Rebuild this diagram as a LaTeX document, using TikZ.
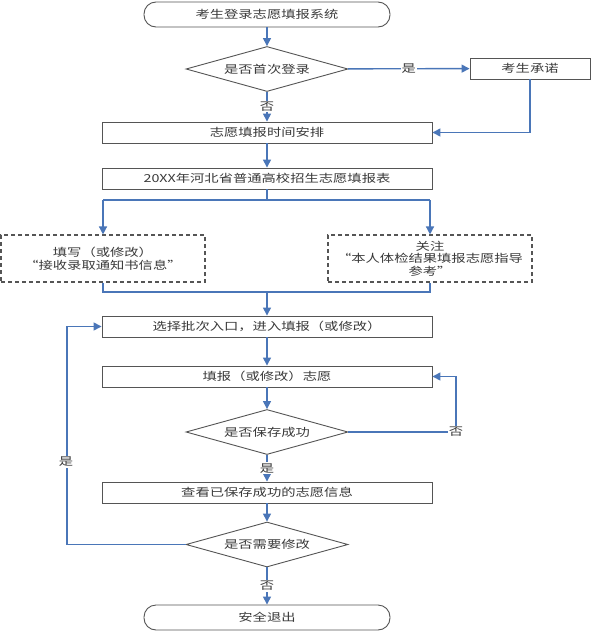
\documentclass[tikz,border=0pt]{standalone}
\usepackage{fontspec}
\newfontfamily\cjk[FakeStretch=1.3]{Noto Sans CJK SC}
\usetikzlibrary{arrows.meta,shapes.geometric}
\definecolor{flowblue}{HTML}{4A76B8}
\definecolor{boxgray}{HTML}{555555}
\definecolor{txt}{HTML}{3A3A3A}
\tikzset{
  every node/.style={font=\cjk\fontsize{11}{12.5}\selectfont, text=txt},
  procbox/.style={draw=boxgray, line width=0.9pt, rectangle, minimum width=330pt, minimum height=21pt, inner sep=0pt},
  termbox/.style={draw=boxgray, line width=0.9pt, rectangle, rounded corners=12pt, minimum width=246pt, minimum height=25pt, inner sep=0pt},
  decbox/.style={draw=boxgray, line width=0.9pt, diamond, aspect=3.7, minimum width=162pt, minimum height=45pt, inner sep=0pt},
  notebox/.style={draw=boxgray, line width=1.1pt, dash pattern=on 4pt off 3pt, rectangle, minimum width=204pt, minimum height=47pt, align=center, inner sep=0pt},
  flow/.style={draw=flowblue, line width=1.4pt, -{Triangle[length=8pt,width=8pt]}},
  flowline/.style={draw=flowblue, line width=1.4pt},
  lbl/.style={fill=white, inner sep=1pt}
}
\begin{document}
\begin{tikzpicture}[x=1pt,y=-1pt]
\useasboundingbox[fill=white] (0,0) rectangle (596,632);
% nodes
\node[termbox] (start) at (267,14.5) {考生登录志愿填报系统};
\node[decbox] (d1) at (267,69) {是否首次登录};
\node[draw=boxgray, line width=0.9pt, rectangle, minimum width=120pt, minimum height=21pt, inner sep=0pt] (promise) at (530,68.5) {考生承诺};
\node[procbox] (b1) at (267,132.5) {志愿填报时间安排};
\node[procbox] (b2) at (267,178.5) {20XX年河北省普通高校招生志愿填报表};
\node[notebox] (nl) at (103,258.5) {填写（或修改）\\“接收录取通知书信息”};
\node[notebox] (nr) at (430,258.5) {关注\\“本人体检结果填报志愿指导\\参考”};
\node[procbox] (b3) at (267,326.5) {选择批次入口，进入填报（或修改）};
\node[procbox] (b4) at (267,376.5) {填报（或修改）志愿};
\node[decbox] (d2) at (267,432) {是否保存成功};
\node[procbox] (b5) at (267,492.5) {查看已保存成功的志愿信息};
\node[decbox] (d3) at (267,544.5) {是否需要修改};
\node[termbox] (stop) at (267,617.5) {安全退出};
% helper coordinates
\coordinate (splitc) at (267,200);
\coordinate (splitl) at (103,200);
\coordinate (splitr) at (430,200);
\coordinate (mergel) at (103,292);
\coordinate (merger) at (430,292);
\coordinate (mergec) at (267,292);
\coordinate (fb) at (456,432);
\coordinate (loop) at (67,544.5);
% connectors
\draw[flow] (start) -- (d1);
\draw[flow] (d1) -- node[lbl] {是} (promise);
\draw[flow] (d1) -- node[lbl, pos=0.5] {否} (b1);
\draw[flow] (promise.south) |- (b1.east);
\draw[flow] (b1) -- (b2);
\draw[flowline] (b2) -- (splitc);
\draw[flowline] (splitl) -- (splitr);
\draw[flow] (splitl) -- (nl);
\draw[flow] (splitr) -- (nr);
\draw[flowline] (nl) -- (mergel) -- (merger) -- (nr);
\draw[flow] (mergec) -- (b3);
\draw[flow] (b3) -- (b4);
\draw[flow] (b4) -- (d2);
\draw[flow] (d2.east) -- (fb) |- (b4.east);
\node[lbl] at (fb) {否};
\draw[flow] (d2) -- node[lbl, pos=0.5] {是} (b5);
\draw[flow] (b5) -- (d3);
\draw[flow] (d3.west) -- (loop) |- (b3.west);
\node[lbl] at (66,462) {是};
\draw[flow] (d3) -- node[lbl, pos=0.5] {否} (stop);
\end{tikzpicture}
\end{document}
